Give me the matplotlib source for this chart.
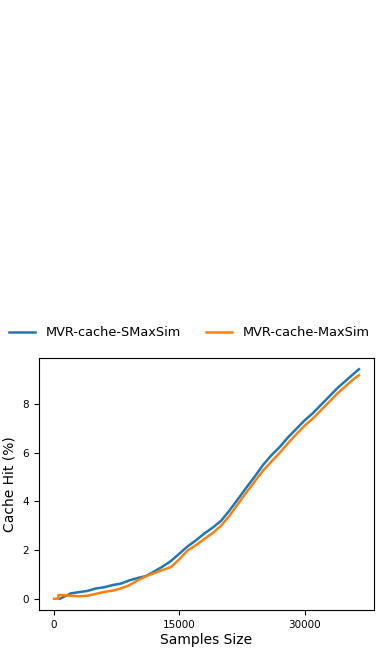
import matplotlib
matplotlib.use("Agg")
import matplotlib.pyplot as plt

# values (samples size -> cache hit %)
smaxsim_x = [700, 1000, 2000, 3000, 4000, 5000, 6000, 7000, 8000, 9000, 10000,
             11000, 12000, 13000, 14000, 15000, 16000, 17000, 18000, 19000, 20000,
             21000, 22000, 23000, 24000, 25000, 26000, 27000, 28000, 29000, 30000,
             31000, 32000, 33000, 34000, 35000, 36000, 36500]
smaxsim_y = [0.0, 0.05, 0.22, 0.27, 0.32, 0.42, 0.47, 0.56, 0.62, 0.75, 0.85,
             0.93, 1.12, 1.32, 1.55, 1.85, 2.15, 2.40, 2.68, 2.92, 3.20,
             3.62, 4.08, 4.55, 5.00, 5.48, 5.88, 6.22, 6.62, 6.97, 7.32,
             7.62, 7.97, 8.32, 8.67, 8.97, 9.27, 9.42]

maxsim_x = [0, 500, 520, 1000, 2000, 3000, 4000, 5000, 6000, 7000, 8000, 9000, 10000,
            11000, 12000, 13000, 14000, 15000, 16000, 17000, 18000, 19000, 20000,
            21000, 22000, 23000, 24000, 25000, 26000, 27000, 28000, 29000, 30000,
            31000, 32000, 33000, 34000, 35000, 36000, 36500]
maxsim_y = [0.0, 0.0, 0.15, 0.15, 0.12, 0.10, 0.12, 0.20, 0.28, 0.33, 0.42, 0.55, 0.75,
            0.92, 1.05, 1.18, 1.30, 1.62, 1.98, 2.20, 2.45, 2.70, 3.00,
            3.40, 3.88, 4.35, 4.80, 5.25, 5.62, 5.98, 6.38, 6.75, 7.10,
            7.40, 7.75, 8.10, 8.45, 8.75, 9.05, 9.17]

x_ticks = [0, 15000, 30000]

fig = plt.figure(figsize=(3.81, 6.54), dpi=100)
ax = fig.add_axes([0.102, 0.067, 0.880, 0.386])

ax.plot(smaxsim_x, smaxsim_y, color="#1f77b4", lw=1.8, label="MVR-cache-SMaxSim")
ax.plot(maxsim_x, maxsim_y, color="#ff7f0e", lw=1.8, label="MVR-cache-MaxSim")

ax.set_xticks(x_ticks)
ax.set_yticks([0, 2, 4, 6, 8])
ax.tick_params(labelsize=7.5)
ax.set_xlabel("Samples Size", fontsize=10, labelpad=2)
ax.set_ylabel("Cache Hit (%)", fontsize=10)

fig.legend(loc="center", bbox_to_anchor=(0.497, 0.491), ncol=2, frameon=False,
           fontsize=9.3, columnspacing=2.0)

fig.savefig("out.png", dpi=100)
